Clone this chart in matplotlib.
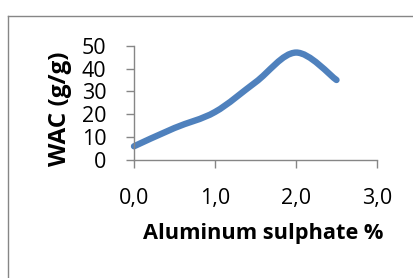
import matplotlib
matplotlib.use("Agg")
import matplotlib.pyplot as plt
from matplotlib.path import Path
from matplotlib.patches import PathPatch
from matplotlib.lines import Line2D
import numpy as np

# Data
conc = [0.0, 0.5, 1.0, 1.5, 2.0, 2.5]
wac = [6, 14, 21, 34, 47, 35]
x_ticks = [0, 1, 2, 3]
x_ticklabels = ["0,0", "1,0", "2,0", "3,0"]
y_ticks = [0, 10, 20, 30, 40, 50]
x_label = "Aluminum sulphate %"
y_label = "WAC (g/g)"

plt.rcParams['font.family'] = ['Open Sans', 'DejaVu Sans']
grey = "#868686"
blue = "#4F81BD"

fig = plt.figure(figsize=(4.14, 2.78), dpi=100)
# outer chart frame
fig.add_artist(Line2D([8/414, 1.0], [1-16/278, 1-16/278], transform=fig.transFigure, color=grey, lw=1.0))
fig.add_artist(Line2D([8/414, 8/414], [0, 1-16/278], transform=fig.transFigure, color=grey, lw=1.0))

ax = fig.add_axes([134/414, 118/278, 243/414, 114.3/278])
ax.set_xlim(0, 3)
ax.set_ylim(0, 50)

# smooth line (Excel-like Bezier through data points)
P = np.column_stack([conc, wac]).astype(float)
verts = [P[0]]
codes = [Path.MOVETO]
n = len(P)
for i in range(n - 1):
    p0 = P[i - 1] if i > 0 else P[i]
    p1 = P[i]
    p2 = P[i + 1]
    p3 = P[i + 2] if i + 2 < n else P[i + 1]
    c1 = p1 + (p2 - p0) / 6.0
    c2 = p2 - (p3 - p1) / 6.0
    verts += [c1, c2, p2]
    codes += [Path.CURVE4] * 3
path = Path(verts, codes)
ax.add_patch(PathPatch(path, fill=False, edgecolor=blue, lw=4.6, capstyle='round', joinstyle='round', clip_on=False))

for s in ['top', 'right']:
    ax.spines[s].set_visible(False)
for s in ['left', 'bottom']:
    ax.spines[s].set_color(grey)
    ax.spines[s].set_linewidth(1.0)

ax.set_xticks(x_ticks)
ax.set_xticklabels(x_ticklabels)
ax.set_yticks(y_ticks)
ax.tick_params(axis='both', colors=grey, length=6, width=1.0, labelsize=15.5, labelcolor='black', direction='out')
ax.tick_params(axis='y', pad=14)
ax.tick_params(axis='x', pad=14)

ax.set_xlabel(x_label, fontsize=15.7, fontweight='bold')
ax.set_ylabel(y_label, fontsize=17.5, fontweight='bold')
ax.xaxis.set_label_coords(0.531, -0.55)
ax.yaxis.set_label_coords(-0.255, 0.45)

fig.savefig("out.png", dpi=100)
